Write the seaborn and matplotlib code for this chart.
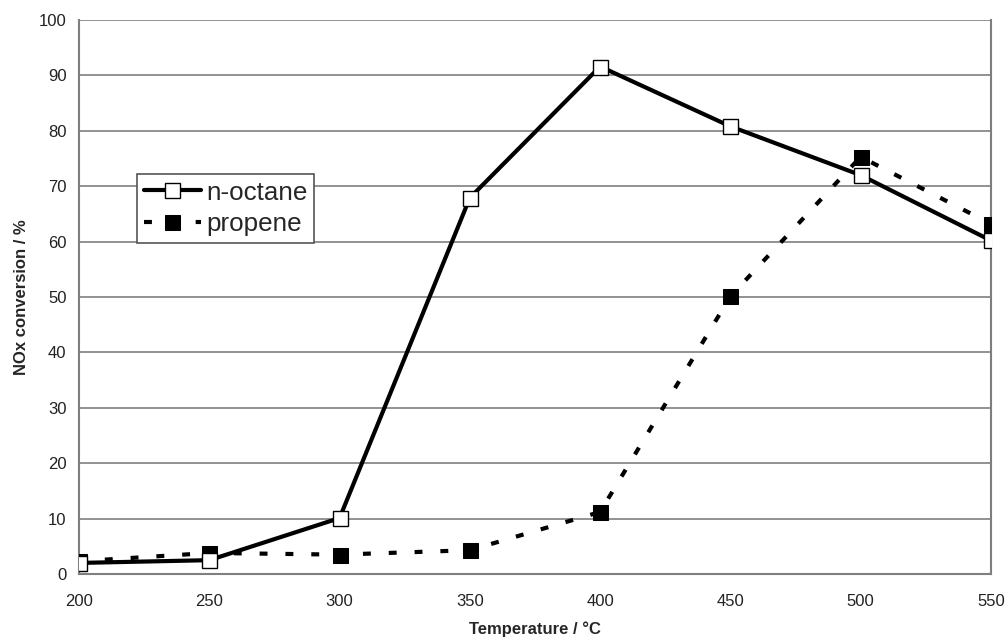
import matplotlib
matplotlib.use("Agg")
import matplotlib.pyplot as plt
import seaborn as sns
import pandas as pd

temperature = [200, 250, 300, 350, 400, 450, 500, 550]
n_octane = [2.0, 2.5, 10.1, 67.9, 91.6, 80.8, 72.0, 60.2]
propene = [2.3, 3.8, 3.5, 4.3, 11.2, 50.1, 75.3, 63.2]
y_ticks = list(range(0, 101, 10))
x_ticks = list(range(200, 551, 50))

sns.set_theme(style="white")
plt.rcParams['font.family'] = ['Liberation Sans', 'DejaVu Sans']

df_oct = pd.DataFrame({"T": temperature, "v": n_octane})
df_pro = pd.DataFrame({"T": temperature, "v": propene})

fig = plt.figure(figsize=(10.07, 6.39), dpi=100)
ax = fig.add_axes([0.0785, 0.1017, 0.9055, 0.867])

for y in y_ticks[1:]:
    ax.axhline(y, color="#7f7f7f", lw=1.2, zorder=0)

sns.lineplot(data=df_pro, x="T", y="v", ax=ax, color="black", lw=3,
             linestyle=(0, (1.9, 4.3)), marker="s", markersize=10.8,
             markerfacecolor="black", markeredgecolor="black",
             label="propene", zorder=3)
sns.lineplot(data=df_oct, x="T", y="v", ax=ax, color="black", lw=3,
             linestyle="-", marker="s", markersize=10.8,
             markerfacecolor="white", markeredgecolor="black", markeredgewidth=1,
             label="n-octane", zorder=4)

ax.set_xlim(200, 550)
ax.set_ylim(0, 100)
ax.set_xticks(x_ticks)
ax.set_yticks(y_ticks)
ax.tick_params(axis="both", labelsize=12, colors="#222222", width=1.2)
ax.tick_params(axis="x", direction="inout", length=6, pad=11.5)
ax.tick_params(axis="y", direction="out", length=4, pad=5)
for s in ["left", "bottom", "right"]:
    ax.spines[s].set_color("#7f7f7f")
    ax.spines[s].set_linewidth(1.5)
ax.spines["top"].set_visible(False)
ax.set_xlabel("Temperature / °C", fontsize=12, fontweight="bold", labelpad=8.5)
ax.set_ylabel("NOx conversion / %", fontsize=12, fontweight="bold", labelpad=7)

h, l = ax.get_legend_handles_labels()
leg = ax.legend(h[::-1], l[::-1], loc="upper left", bbox_to_anchor=(0.064, 0.722),
                fontsize=18.7, frameon=True, fancybox=False, edgecolor="#555555",
                framealpha=1, handlelength=2.2, handletextpad=0.2,
                borderpad=0.25, labelspacing=0.3, borderaxespad=0)
leg.get_frame().set_linewidth(1.2)

fig.savefig("out.png", dpi=100)
